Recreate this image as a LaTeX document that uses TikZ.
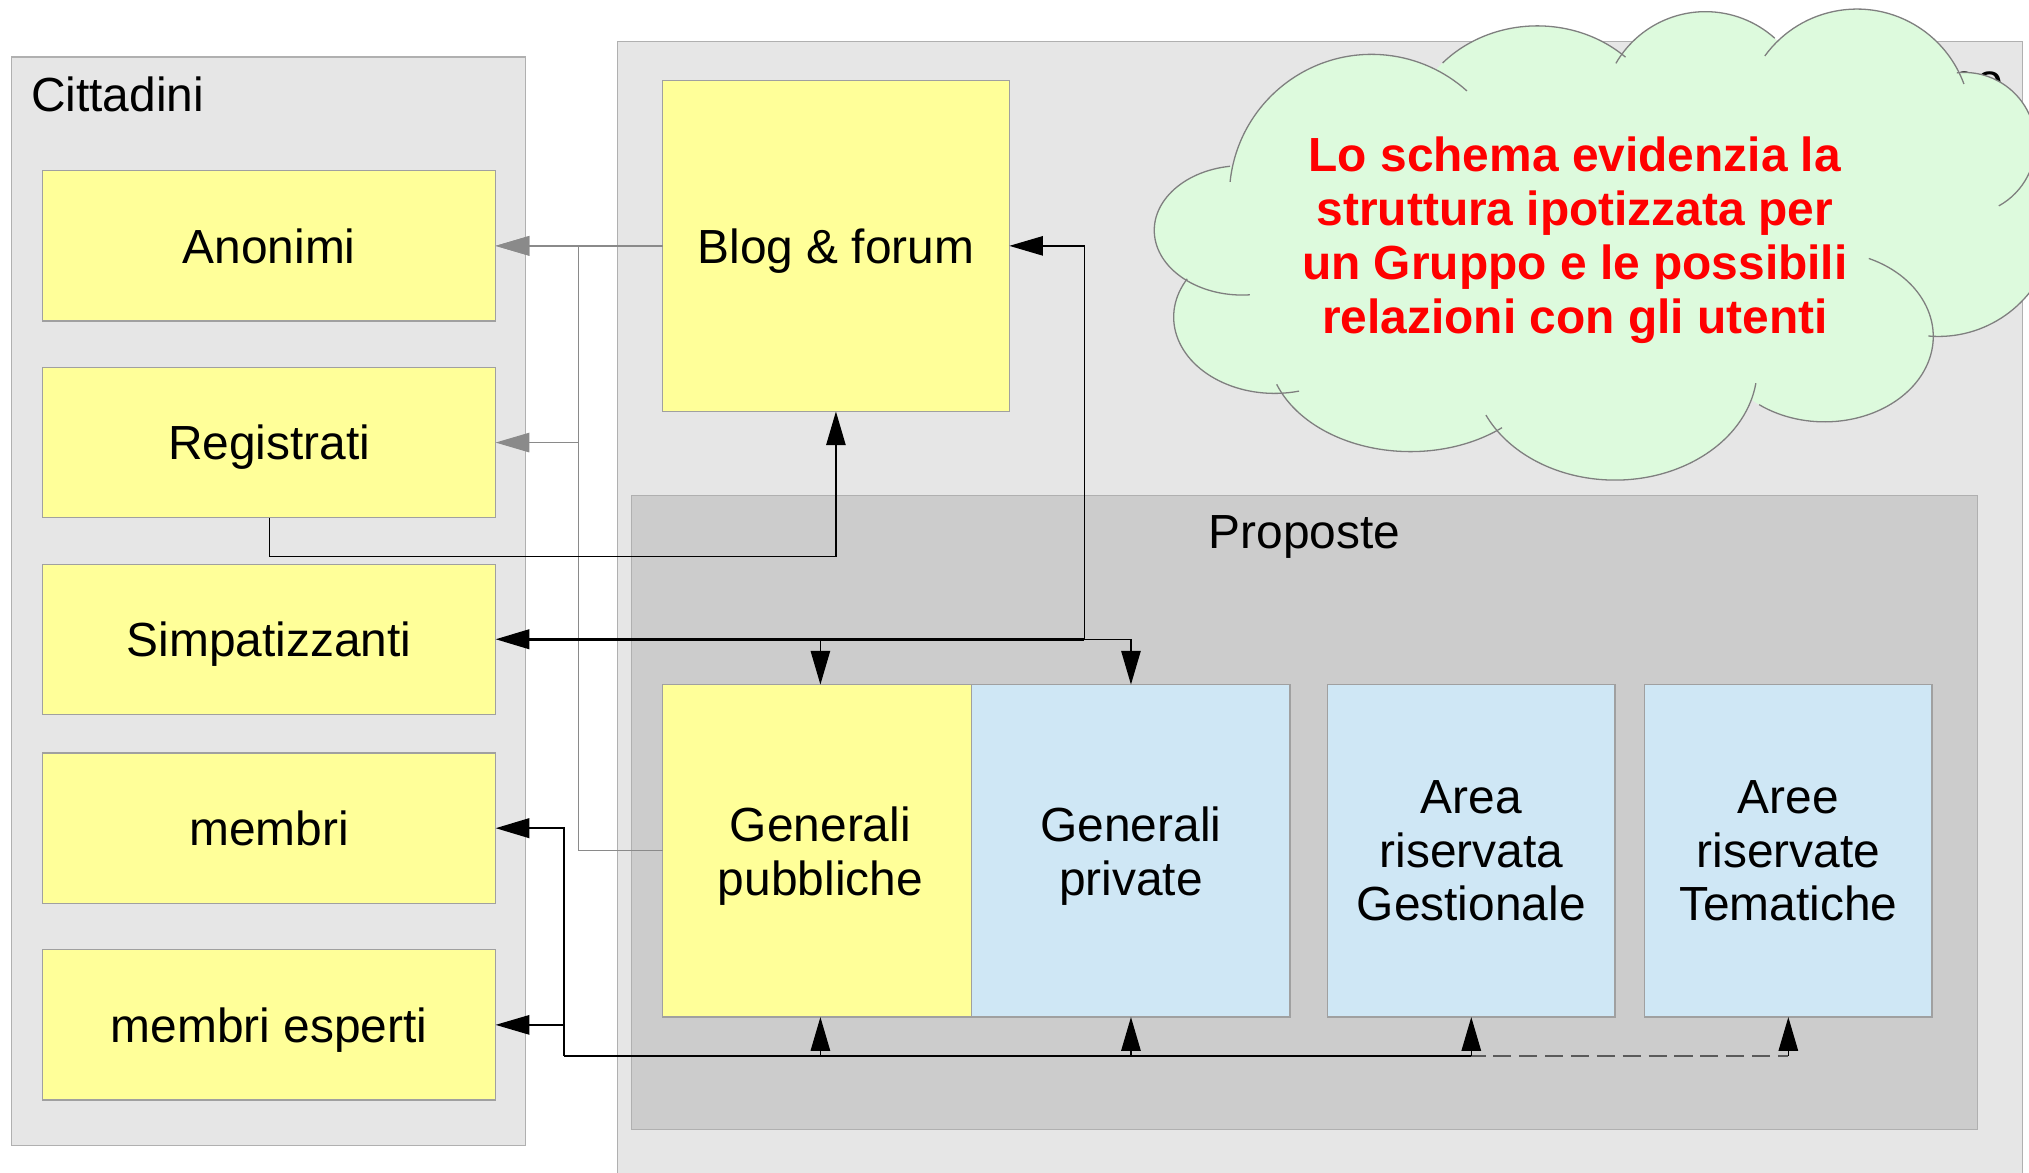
\documentclass[tikz,border=0pt]{standalone}
\usepackage{fontspec}
\setmainfont{Liberation Sans}
\usetikzlibrary{arrows.meta}
\definecolor{boxyellow}{HTML}{FFFF99}
\definecolor{boxblue}{HTML}{CFE7F5}
\definecolor{contgray}{HTML}{E6E6E6}
\definecolor{propgray}{HTML}{CCCCCC}
\definecolor{bordergray}{HTML}{A0A0A0}
\definecolor{contborder}{HTML}{B0B0B0}
\definecolor{cloudgreen}{HTML}{DDFADD}
\definecolor{cloudline}{HTML}{7F7F7F}
\definecolor{conngray}{HTML}{8A8A8A}
\definecolor{conndark}{HTML}{5A5A5A}
\begin{document}
\begin{tikzpicture}[x=1pt,y=1pt,yscale=-1,
  every node/.style={inner sep=0pt,outer sep=0pt,text depth=0pt},
  bigfont/.style={font=\fontsize{37}{41.5}\selectfont},
  container/.style={draw=contborder,line width=1pt,fill=contgray},
  ybox/.style={draw=bordergray,line width=1pt,fill=boxyellow,bigfont,align=center},
  bbox/.style={draw=bordergray,line width=1pt,fill=boxblue,bigfont,align=center},
  gline/.style={draw=conngray,line width=1pt},
  tline/.style={draw=black,line width=1pt},
  kline/.style={draw=black,line width=2pt},
  dline/.style={draw=conndark,line width=1pt,dash pattern=on 14pt off 6pt},
  >={Triangle[length=26pt,width=15pt]},
  lobe/.style={draw=cloudline,line width=1pt}
]
\useasboundingbox (0,0) rectangle (1568,906);
\fill[white] (0,0) rectangle (1568,906);
\begin{scope}
\clip (0,0) rectangle (1568,906);
% containers
\node[container,minimum width=397pt,minimum height=841pt] (citt) at (207.5,464.5) {};
\node[container,minimum width=1086pt,minimum height=898pt] (grp) at (1020,481) {};
\node[bigfont,anchor=base east] (grptitle) at (1548,75) {Gruppo};
\node[bigfont,anchor=west] (citttitle) at (24,73) {Cittadini};
\node[draw=contborder,line width=1pt,fill=propgray,minimum width=1040pt,minimum height=490pt] (prop) at (1008,628) {};
\node[bigfont] (proptitle) at (1008,411) {Proposte};
% citizen boxes
\node[ybox,minimum width=350pt,minimum height=116pt] (anon) at (208,190) {Anonimi};
\node[ybox,minimum width=350pt,minimum height=116pt] (reg) at (208,342) {Registrati};
\node[ybox,minimum width=350pt,minimum height=116pt] (sim) at (208,494) {Simpatizzanti};
\node[ybox,minimum width=350pt,minimum height=116pt] (mem) at (208,640) {membri};
\node[ybox,minimum width=350pt,minimum height=116pt] (memexp) at (208,792) {membri esperti};
% group boxes
\node[ybox,minimum width=268pt,minimum height=256pt] (blog) at (646,190) {Blog \& forum};
\node[ybox,minimum width=244pt,minimum height=257pt] (gp) at (634,657.5) {Generali\\pubbliche};
\node[bbox,minimum width=246pt,minimum height=257pt] (gpr) at (874,657.5) {Generali\\private};
\node[bbox,minimum width=222pt,minimum height=257pt] (arg) at (1137,657.5) {Area\\riservata\\Gestionale};
\node[bbox,minimum width=222pt,minimum height=257pt] (art) at (1382,657.5) {Aree\\riservate\\Tematiche};
% junction coordinates
\coordinate (vg) at (447,0);
\coordinate (js) at (838,494);
\coordinate (jm) at (436,816);
% grey connectors
\draw[gline,->] (blog.west) -- (anon.east);
\draw[gline,->] (gp.west) -- (gp.west -| vg) |- (anon.east);
\draw[gline,->] (gp.west -| vg) |- (reg.east);
% Registrati -> Blog
\draw[tline,->] (reg.south) -- ++(0,30) -| (blog.south);
% Simpatizzanti
\draw[tline,->] (js) |- (blog.east);
\draw[tline,->] (js) -| (gpr.north);
\draw[tline,->] (sim.east -| gp.north) -- (gp.north);
\draw[kline,<-] (sim.east) -- (js);
% membri
\draw[dline] (jm -| gpr.south) -- (jm -| art.south);
\draw[kline,<-] (mem.east) -| (jm);
\draw[kline] (jm) -- (jm -| arg.south);
\draw[tline,<-] (memexp.east) -- (memexp.east -| jm);
\draw[tline,->] (jm -| gp.south) -- (gp.south);
\draw[tline,->] (jm -| gpr.south) -- (gpr.south);
\draw[tline,->] (jm -| arg.south) -- (arg.south);
\draw[tline,->] (jm -| art.south) -- (art.south);
% cloud fill
\fill[cloudgreen] (1210,190) ellipse[x radius=270,y radius=140];
\fill[cloudgreen] (960,178) ellipse[x radius=68,y radius=50];
\fill[cloudgreen] (1060,152) circle[radius=110];
\fill[cloudgreen] (1188,110) ellipse[x radius=100,y radius=90];
\fill[cloudgreen] (1318,89) circle[radius=80];
\fill[cloudgreen] (1435,95) circle[radius=88];
\fill[cloudgreen] (1518,111) circle[radius=55];
\fill[cloudgreen] (1498,170) circle[radius=90];
\fill[cloudgreen] (1410,260) ellipse[x radius=84,y radius=66];
\fill[cloudgreen] (1248,284) ellipse[x radius=110,y radius=87];
\fill[cloudgreen] (1090,270) ellipse[x radius=110,y radius=79];
\fill[cloudgreen] (985,245) ellipse[x radius=78,y radius=59];
% cloud outline
\draw[lobe] (960,178) ++(-98:68 and 50) arc[start angle=-98,end angle=-275,x radius=68,y radius=50];
\draw[lobe] (1060,152) ++(186:110) arc[start angle=186,end angle=312,radius=110];
\draw[lobe] (1188,110) ++(223:100 and 90) arc[start angle=223,end angle=313,x radius=100,y radius=90];
\draw[lobe] (1318,89) ++(210:80) arc[start angle=210,end angle=312,radius=80];
\draw[lobe] (1435,95) ++(216:88) arc[start angle=216,end angle=340,radius=88];
\draw[lobe] (1518,111) ++(264:55) arc[start angle=264,end angle=421,radius=55];
\draw[lobe] (1498,170) ++(15:90) arc[start angle=15,end angle=95,radius=90];
\draw[lobe] (1410,260) ++(-66:84 and 66) arc[start angle=-66,end angle=127,x radius=84,y radius=66];
\draw[lobe] (1248,284) ++(8:110 and 87) arc[start angle=8,end angle=155,x radius=110,y radius=87];
\draw[lobe] (1090,270) ++(50:110 and 79) arc[start angle=50,end angle=160,x radius=110,y radius=79];
\draw[lobe] (985,245) ++(76:78 and 59) arc[start angle=76,end angle=210,x radius=78,y radius=59];
\node[font=\fontsize{37}{41.7}\selectfont\bfseries,text=red,align=center] (cloudtext) at (1217,182)
  {Lo schema evidenzia la\\struttura ipotizzata per\\un Gruppo e le possibili\\relazioni con gli utenti};
\end{scope}
\end{tikzpicture}
\end{document}
